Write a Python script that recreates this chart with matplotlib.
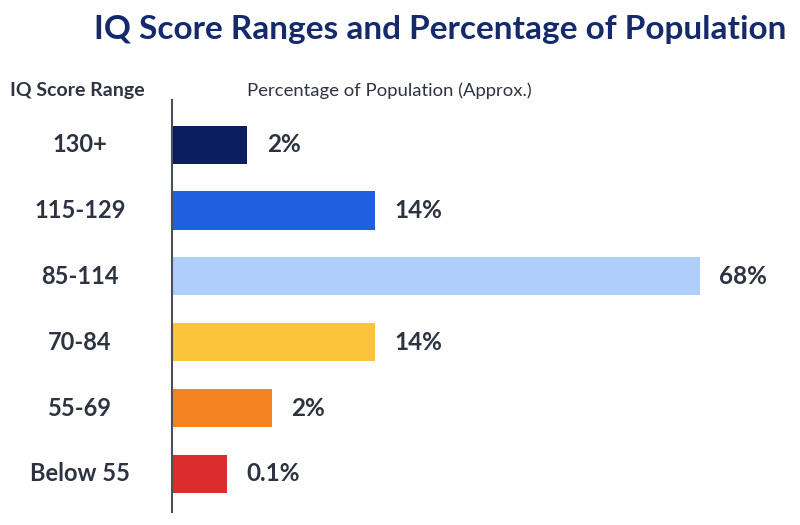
import matplotlib
matplotlib.use("Agg")
import matplotlib.pyplot as plt
from matplotlib.transforms import blended_transform_factory

plt.rcParams['font.family'] = ['Lato', 'DejaVu Sans']

# categories, top to bottom
ranges = ["130+", "115-129", "85-114", "70-84", "55-69", "Below 55"]
pct_labels = ["2%", "14%", "68%", "14%", "2%", "0.1%"]
# bar lengths as drawn in the picture (not strictly proportional)
bar_len = [9.7, 26.2, 68, 26.2, 12.9, 7.1]
colors = ["#0b1f5e", "#1f5fe0", "#afcffa", "#fbc43b", "#f4821e", "#dc2d2d"]

text_color = "#2d3340"

fig = plt.figure(figsize=(8, 5.25), dpi=100)
ax = fig.add_axes([0.215, 0.0248, 0.76, 0.7847])

y = list(range(len(ranges)))
ax.barh(y, bar_len, height=0.58, color=colors)

ax.set_xlim(0, 78.3)
ax.set_ylim(5.58, -0.68)

for i, (v, lab) in enumerate(zip(bar_len, pct_labels)):
    ax.text(v + 2.5, i, lab, va="center", ha="left", fontsize=17.5,
            fontweight="bold", color=text_color)

# category labels centred to the left of the axis
tr = blended_transform_factory(fig.transFigure, ax.transData)
for i, r in enumerate(ranges):
    ax.text(0.1, i, r, transform=tr, ha="center", va="center", fontsize=17,
            fontweight="bold", color=text_color)

for side in ["top", "right", "bottom"]:
    ax.spines[side].set_visible(False)
ax.spines["left"].set_color("#4a4f5a")
ax.spines["left"].set_linewidth(1.5)
ax.set_xticks([])
ax.set_yticks([])

fig.text(0.55, 0.943, "IQ Score Ranges and Percentage of Population",
         ha="center", va="center", fontsize=24, fontweight="bold", color="#142a6b")
fig.text(0.097, 0.828, "IQ Score Range", ha="center", va="center",
         fontsize=14, fontweight="bold", color=text_color)
fig.text(0.309, 0.828, "Percentage of Population (Approx.)", ha="left",
         va="center", fontsize=13.3, color=text_color)

fig.savefig("out.png", dpi=100, facecolor="white")
